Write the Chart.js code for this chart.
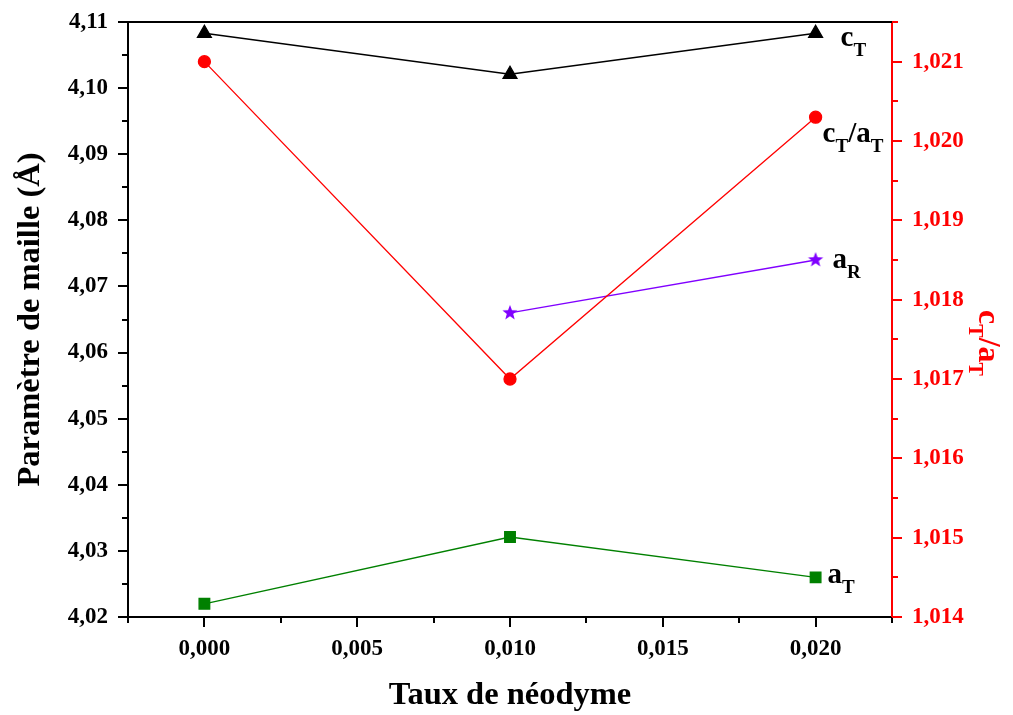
<!DOCTYPE html>
<html>
<head>
<meta charset="utf-8">
<script src="https://cdn.jsdelivr.net/npm/chart.js@4/dist/chart.umd.min.js"></script>
<style>
  body { margin: 0; background: #fff; }
  #wrap { width: 1013px; height: 715px; position: relative; }
</style>
</head>
<body>
<div id="wrap"><canvas id="chart"></canvas></div>
<script>
// taux de néodyme
var taux = [0.000, 0.010, 0.020];
// paramètres de maille (Å)
var cT = [4.1083, 4.1021, 4.1083];
var aR = [null, 4.0660, 4.0740];
var aT = [4.0220, 4.0321, 4.0260];
// rapport c/a (axe de droite)
var cTaT = [1.0210, 1.0170, 1.0203];

var xTicks = [0.000, 0.005, 0.010, 0.015, 0.020];
var yTicks = [4.02, 4.03, 4.04, 4.05, 4.06, 4.07, 4.08, 4.09, 4.10, 4.11];
var y2Ticks = [1.014, 1.015, 1.016, 1.017, 1.018, 1.019, 1.020, 1.021];

var serif = '"Liberation Serif", "Times New Roman", serif';

function pts(ys) {
	var out = [];
	for (var i = 0; i < taux.length; i++) {
		if (ys[i] != null) out.push({x: taux[i], y: ys[i]});
	}
	return out;
}

function starImage(color, r) {
	var c = document.createElement('canvas');
	c.width = c.height = 2 * r + 2;
	var g = c.getContext('2d');
	g.fillStyle = color;
	g.beginPath();
	for (var i = 0; i < 10; i++) {
		var rad = i % 2 ? r * 0.42 : r;
		var a = -Math.PI / 2 + i * Math.PI / 5;
		g.lineTo(c.width / 2 + rad * Math.cos(a), c.height / 2 + rad * Math.sin(a));
	}
	g.closePath();
	g.fill();
	return c;
}

function comma(d) {
	return function (v) { return v.toFixed(d).replace('.', ','); };
}

// text with subscripts: parts = [[text, isSub], ...]
function partsWidth(ctx, parts, big, small) {
	var w = 0;
	for (var i = 0; i < parts.length; i++) {
		ctx.font = 'bold ' + (parts[i][1] ? small : big) + 'px ' + serif;
		w += ctx.measureText(parts[i][0]).width;
	}
	return w;
}
function drawParts(ctx, parts, x, y, big, small) {
	for (var i = 0; i < parts.length; i++) {
		var sub = parts[i][1];
		ctx.font = 'bold ' + (sub ? small : big) + 'px ' + serif;
		ctx.fillText(parts[i][0], x, y + (sub ? 10 : 0));
		x += ctx.measureText(parts[i][0]).width;
	}
}

var labels = [
	{data: cT, axis: 'y', parts: [['c', 0], ['T', 1]], dx: 25, dy: 13},
	{data: cTaT, axis: 'y2', parts: [['c', 0], ['T', 1], ['/a', 0], ['T', 1]], dx: 7, dy: 25},
	{data: aR, axis: 'y', parts: [['a', 0], ['R', 1]], dx: 17, dy: 8},
	{data: aT, axis: 'y', parts: [['a', 0], ['T', 1]], dx: 12, dy: 6}
];

var decor = {
	id: 'decor',
	afterDraw: function (chart) {
		var ctx = chart.ctx, a = chart.chartArea;
		var xs = chart.scales.x, yl = chart.scales.y, yr = chart.scales.y2;
		ctx.save();
		ctx.lineWidth = 2;
		// top frame
		ctx.strokeStyle = '#000';
		ctx.beginPath();
		ctx.moveTo(a.left, a.top);
		ctx.lineTo(a.right, a.top);
		ctx.stroke();
		// x ticks
		ctx.beginPath();
		for (var i = -1; i <= 9; i++) {
			var px = Math.round(xs.getPixelForValue(i * 0.0025));
			ctx.moveTo(px, a.bottom);
			ctx.lineTo(px, a.bottom + (i % 2 == 0 ? 10 : 6));
		}
		// left ticks
		for (var i = 0; i <= 18; i++) {
			var py = Math.round(yl.getPixelForValue(4.02 + i * 0.005));
			ctx.moveTo(a.left, py);
			ctx.lineTo(a.left - (i % 2 == 0 ? 10 : 6), py);
		}
		ctx.stroke();
		// right ticks
		ctx.strokeStyle = '#ff0000';
		ctx.beginPath();
		for (var i = 0; i <= 15; i++) {
			var py = Math.round(yr.getPixelForValue(1.014 + i * 0.0005));
			ctx.moveTo(a.right, py);
			ctx.lineTo(a.right + (i % 2 == 0 ? 10 : 6), py);
		}
		ctx.stroke();

		// series labels
		ctx.fillStyle = '#000';
		ctx.textBaseline = 'alphabetic';
		ctx.textAlign = 'left';
		for (var i = 0; i < labels.length; i++) {
			var l = labels[i];
			var n = l.data.length - 1;
			var px = xs.getPixelForValue(taux[n]);
			var py = chart.scales[l.axis].getPixelForValue(l.data[n]);
			drawParts(ctx, l.parts, px + l.dx, py + l.dy, 29, 19);
		}

		// right axis title
		ctx.fillStyle = '#ff0000';
		ctx.translate(979, 343);
		ctx.rotate(Math.PI / 2);
		var parts = [['c', 0], ['T', 1], ['/a', 0], ['T', 1]];
		var w = partsWidth(ctx, parts, 32, 20);
		drawParts(ctx, parts, -w / 2, 0, 32, 20);
		ctx.restore();
	}
};

var star = starImage('#8000ff', 8);

function fixV(w) {
	return function (s) { s.width = w; s.paddingTop = 0; s.paddingBottom = 0; };
}

var chart = new Chart(document.getElementById('chart'), {
	type: 'scatter',
	data: {
		datasets: [
			{
				data: pts(cT), yAxisID: 'y', showLine: true,
				borderColor: '#000', backgroundColor: '#000', borderWidth: 1.3,
				pointStyle: 'triangle', pointRadius: 8, clip: false
			},
			{
				data: pts(cTaT), yAxisID: 'y2', showLine: true,
				borderColor: '#ff0000', backgroundColor: '#ff0000', borderWidth: 1.3,
				pointStyle: 'circle', pointRadius: 6, clip: false
			},
			{
				data: pts(aR), yAxisID: 'y', showLine: true,
				borderColor: '#8000ff', backgroundColor: '#8000ff', borderWidth: 1.3,
				pointStyle: star, clip: false
			},
			{
				data: pts(aT), yAxisID: 'y', showLine: true,
				borderColor: '#008000', backgroundColor: '#008000', borderWidth: 1.3,
				pointStyle: 'rect', pointRadius: 7.5, clip: false
			}
		]
	},
	options: {
		responsive: true,
		maintainAspectRatio: false,
		animation: false,
		layout: {padding: {top: 22, left: 0, right: 0, bottom: 0}},
		plugins: {legend: {display: false}, tooltip: {enabled: false}},
		scales: {
			x: {
				type: 'linear', min: -0.0025, max: 0.0225,
				afterBuildTicks: function (s) { s.ticks = xTicks.map(function (v) { return {value: v}; }); },
				afterFit: function (s) { s.height = 98; s.paddingLeft = 0; s.paddingRight = 0; },
				grid: {display: false, drawTicks: false},
				border: {display: true, color: '#000', width: 2},
				ticks: {callback: comma(3), color: '#000', padding: 18, maxRotation: 0,
					font: {family: serif, size: 23, weight: 'bold'}},
				title: {display: true, text: 'Taux de néodyme', color: '#000', padding: {top: 0, bottom: 0},
					font: {family: serif, size: 32.5, weight: 'bold'}}
			},
			y: {
				position: 'left', min: 4.02, max: 4.11,
				afterBuildTicks: function (s) { s.ticks = yTicks.map(function (v) { return {value: v}; }); },
				afterFit: fixV(128),
				grid: {display: false, drawTicks: false},
				border: {display: true, color: '#000', width: 2},
				ticks: {callback: comma(2), color: '#000', padding: 20,
					font: {family: serif, size: 23, weight: 'bold'}},
				title: {display: true, text: 'Paramètre de maille (Å)', color: '#000', padding: {top: 11, bottom: 0},
					font: {family: serif, size: 32.5, weight: 'bold'}}
			},
			y2: {
				position: 'right', min: 1.014, max: 1.0215,
				afterBuildTicks: function (s) { s.ticks = y2Ticks.map(function (v) { return {value: v}; }); },
				afterFit: fixV(121),
				grid: {display: false, drawTicks: false},
				border: {display: true, color: '#ff0000', width: 2},
				ticks: {callback: comma(3), color: '#ff0000', padding: 20,
					font: {family: serif, size: 23, weight: 'bold'}}
			}
		}
	},
	plugins: [decor]
});
</script>
</body>
</html>
